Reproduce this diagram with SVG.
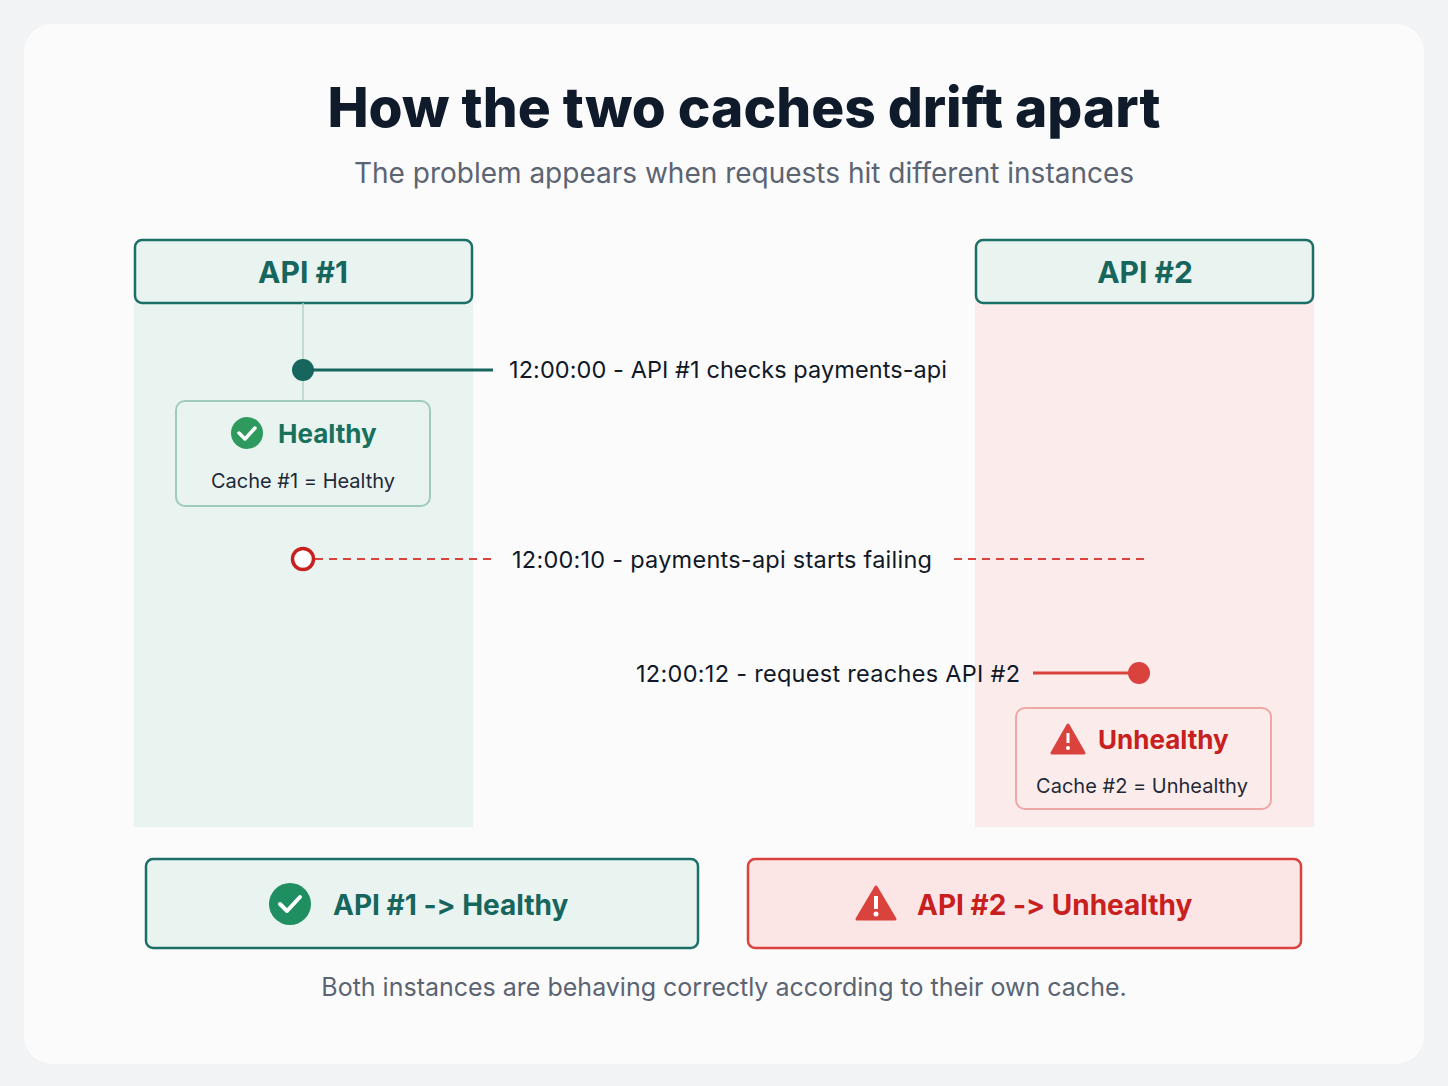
<svg xmlns="http://www.w3.org/2000/svg" width="1448" height="1086" viewBox="0 0 1448 1086">
<style>
text{font-family:Inter,"Noto Sans","Liberation Sans",sans-serif;font-feature-settings:"calt" 0,"liga" 0;font-variant-ligatures:none}
.ev{font-size:23.5px;fill:#111827}
.hdr{font-size:30px;font-weight:700;text-anchor:middle}
</style>
<rect width="1448" height="1086" fill="#f1f3f5"/>
<rect x="24" y="24" width="1400" height="1040" rx="28" fill="#fbfbfc"/>
<text x="744" y="127" font-size="55" font-weight="800" fill="#0f1a2a" text-anchor="middle">How the two caches drift apart</text>
<text x="744" y="183" font-size="28" fill="#5b6472" text-anchor="middle">The problem appears when requests hit different instances</text>
<rect x="134" y="300" width="339" height="527" fill="#e9f3f0"/>
<rect x="975" y="300" width="339" height="527" fill="#fbeceb"/>
<g id="api1"><rect x="135" y="240" width="337" height="63" rx="7" fill="#e9f3f0" stroke="#1b6f66" stroke-width="2.5"/><text class="hdr" x="303" y="283" fill="#17665d">API #1</text></g>
<g id="api2"><rect x="976" y="240" width="337" height="63" rx="7" fill="#e9f3f0" stroke="#1b6f66" stroke-width="2.5"/><text class="hdr" x="1145" y="283" fill="#17665d">API #2</text></g>
<g id="connectors">
<line x1="303" y1="303" x2="303" y2="402" stroke="#b5d2cb" stroke-width="1.5"/>
<line x1="303" y1="370" x2="493" y2="370" stroke="#17665d" stroke-width="3"/>
<circle cx="303" cy="370" r="11" fill="#17665d"/>
<line x1="315" y1="559" x2="493" y2="559" stroke="#d9423d" stroke-width="2" stroke-dasharray="8,6"/>
<line x1="954" y1="559" x2="1150" y2="559" stroke="#d9423d" stroke-width="2" stroke-dasharray="8,6"/>
<circle cx="303" cy="559" r="10.5" fill="#fff" stroke="#c8201e" stroke-width="3.5"/>
<line x1="1033" y1="673" x2="1138" y2="673" stroke="#d9423d" stroke-width="3"/>
<circle cx="1139" cy="673" r="11" fill="#d9423d"/>
</g>
<text class="ev" x="509" y="378" textLength="438">12:00:00 - API #1 checks payments-api</text>
<text class="ev" x="512" y="568" textLength="420">12:00:10 - payments-api starts failing</text>
<text class="ev" x="636" y="682" textLength="384">12:00:12 - request reaches API #2</text>
<g id="healthy"><rect x="176" y="401" width="254" height="105" rx="9" fill="#e9f3f0" stroke="#9fcbbf" stroke-width="2"/>
<circle cx="247" cy="433" r="16" fill="#2f9a5d"/><path d="M239 433l6 6 10-11" fill="none" stroke="#fff" stroke-width="3.5" stroke-linecap="round" stroke-linejoin="round"/>
<text x="278" y="443" font-size="26" font-weight="700" fill="#17715c">Healthy</text>
<text x="303" y="488" font-size="20" fill="#1f2937" text-anchor="middle">Cache #1 = Healthy</text></g>
<g id="unhealthy"><rect x="1016" y="708" width="255" height="101" rx="9" fill="#fbeceb" stroke="#eea7a4" stroke-width="2"/>
<path d="M1068 725l16 28h-32z" fill="#d9423d" stroke="#d9423d" stroke-width="3" stroke-linejoin="round"/><rect x="1066.5" y="733" width="3" height="10" fill="#fff"/><circle cx="1068" cy="748" r="2" fill="#fff"/>
<text x="1098" y="749" font-size="26" font-weight="700" fill="#c8201e">Unhealthy</text>
<text x="1142" y="793" font-size="20" fill="#1f2937" text-anchor="middle">Cache #2 = Unhealthy</text></g>
<g id="sum1"><rect x="146" y="859" width="552" height="89" rx="7" fill="#e9f3f0" stroke="#1b6f66" stroke-width="2.5"/>
<circle cx="290" cy="904" r="21" fill="#1f8f62"/><path d="M280 904l7 7 13-14" fill="none" stroke="#fff" stroke-width="4" stroke-linecap="round" stroke-linejoin="round"/>
<text x="333" y="915" font-size="28" font-weight="700" fill="#17665d">API #1 -&gt; Healthy</text></g>
<g id="sum2"><rect x="748" y="859" width="553" height="89" rx="7" fill="#fbe6e5" stroke="#d9423d" stroke-width="2.5"/>
<path d="M876 887l19 32h-38z" fill="#d9423d" stroke="#d9423d" stroke-width="3" stroke-linejoin="round"/><rect x="874" y="896" width="4" height="13" fill="#fff"/><circle cx="876" cy="914" r="2.5" fill="#fff"/>
<text x="917" y="915" font-size="28" font-weight="700" fill="#c8201e">API #2 -&gt; Unhealthy</text></g>
<text x="724" y="996" font-size="25" fill="#5b6472" text-anchor="middle">Both instances are behaving correctly according to their own cache.</text>
</svg>
